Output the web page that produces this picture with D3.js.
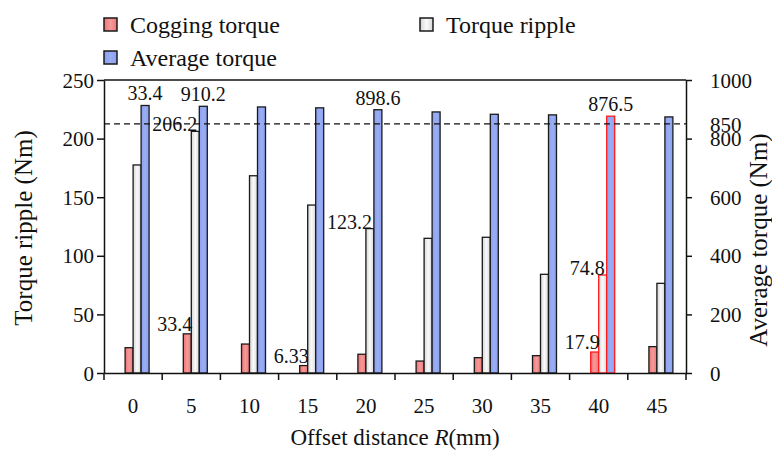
<!DOCTYPE html>
<html><head><meta charset="utf-8">
<script src="https://cdn.jsdelivr.net/npm/d3@7/dist/d3.min.js"></script>
<style>body{margin:0;background:#fff}svg{display:block}</style>
</head><body>
<svg id="c" width="772" height="452"></svg>
<script>
// ---- data ----
const categories = [0, 5, 10, 15, 20, 25, 30, 35, 40, 45];
const coggingTorque = [21.6, 33.4, 24.7, 6.33, 16.0, 10.2, 13.1, 14.8, 17.9, 22.5];
const torqueRipple = [177.5, 206.2, 168.3, 143.3, 123.2, 114.9, 115.8, 84.2, 83.6, 76.5];
const averageTorque = [913, 910.2, 908, 905, 898.6, 891, 883, 881, 876.5, 874];
const leftTicks = [0, 50, 100, 150, 200, 250];
const rightTicks = [0, 200, 400, 600, 800, 850, 1000];
const referenceAvg = 850;
const highlightIndex = 8;
const labels = [
  {text: "33.4", series: "avg", i: 0},
  {text: "910.2", series: "avg", i: 1},
  {text: "898.6", series: "avg", i: 4},
  {text: "876.5", series: "avg", i: 8},
  {text: "206.2", series: "ripple", i: 1},
  {text: "123.2", series: "ripple", i: 4},
  {text: "74.8", series: "ripple", i: 8},
  {text: "33.4", series: "cog", i: 1},
  {text: "6.33", series: "cog", i: 3},
  {text: "17.9", series: "cog", i: 8}
];

// ---- layout ----
const FONT = "'Liberation Serif', 'Times New Roman', 'Liberation Sans', Arial, sans-serif";
const L = 104, R = 686, T = 80, B = 373, bw = 8;
const svg = d3.select("#c").attr("font-family", FONT);
const x = d3.scaleBand().domain(categories).range([L, R]).padding(0);
const yL = d3.scaleLinear().domain([0, 250]).range([B, T]);
const yR = d3.scaleLinear().domain([0, 1000]).range([B, T]);

const defs = svg.append("defs");
function grad(id, stops) {
  const g = defs.append("linearGradient").attr("id", id).attr("x1", "0").attr("x2", "1").attr("y1", "0").attr("y2", "0");
  stops.forEach(s => g.append("stop").attr("offset", s[0]).attr("stop-color", s[1]));
}
grad("gCog", [[0, "#ee7474"], [0.5, "#f59a9a"], [1, "#ee7676"]]);
grad("gRip", [[0, "#d4d4d4"], [0.5, "#fafafa"], [1, "#d6d6d6"]]);
grad("gAvg", [[0, "#8b9ff0"], [0.5, "#9aaef4"], [1, "#8b9ff0"]]);

const cx = c => x(c) + x.bandwidth() / 2;
const series = [
  {key: "cog", vals: coggingTorque, scale: yL, off: -bw, fill: "url(#gCog)"},
  {key: "ripple", vals: torqueRipple, scale: yL, off: 0, fill: "url(#gRip)"},
  {key: "avg", vals: averageTorque, scale: yR, off: bw, fill: "url(#gAvg)"}
];
series.forEach(s => {
  svg.append("g").selectAll("rect").data(s.vals).join("rect")
    .attr("x", (d, i) => cx(categories[i]) + s.off)
    .attr("y", d => s.scale(d))
    .attr("width", bw)
    .attr("height", d => B - s.scale(d))
    .attr("fill", s.fill)
    .attr("stroke", (d, i) => i === highlightIndex ? "#ff1a1a" : "#1a1a1a")
    .attr("stroke-width", 1.3);
});

svg.append("line").attr("x1", L).attr("x2", R)
  .attr("y1", yR(referenceAvg)).attr("y2", yR(referenceAvg))
  .attr("stroke", "#111").attr("stroke-width", 1.3).attr("stroke-dasharray", "6,4");
svg.append("line").attr("x1", L).attr("x2", R).attr("y1", T).attr("y2", T)
  .attr("stroke", "#111").attr("stroke-width", 1.5);

const gl = svg.append("g").attr("transform", `translate(${L},0)`)
  .call(d3.axisLeft(yL).tickValues(leftTicks).tickFormat(d3.format("d")).tickSize(7).tickPadding(3).tickSizeOuter(0));
const gr = svg.append("g").attr("transform", `translate(${R},0)`)
  .call(d3.axisRight(yR).tickValues(rightTicks).tickFormat(d3.format("d")).tickSize(6).tickPadding(18).tickSizeOuter(0));
gr.selectAll(".tick").filter(d => d === 850).select("line").remove();
const gb = svg.append("g").attr("transform", `translate(0,${B})`)
  .call(d3.axisBottom(x).tickSize(0).tickPadding(24).tickSizeOuter(0));
svg.append("g").selectAll("line").data(categories.concat(["end"])).join("line")
  .attr("x1", (d, i) => i < categories.length ? x(d) : R)
  .attr("x2", (d, i) => i < categories.length ? x(d) : R)
  .attr("y1", B).attr("y2", B + 7).attr("stroke", "#111").attr("stroke-width", 1.5);

[gl, gr, gb].forEach(g => {
  g.attr("font-family", FONT);
  g.selectAll(".domain").attr("stroke", "#111").attr("stroke-width", 1.5);
  g.selectAll(".tick line").attr("stroke", "#111").attr("stroke-width", 1.5);
  g.selectAll(".tick text").attr("font-size", 21).attr("fill", "#111");
});
gb.selectAll(".tick text").attr("dy", "0.32em").attr("y", 33);
gl.selectAll(".tick text").attr("dy", "0.34em");
gr.selectAll(".tick text").attr("dy", "0.34em");

svg.append("text").attr("transform", "translate(23,228) rotate(-90)")
  .attr("text-anchor", "middle").attr("dominant-baseline", "central").attr("font-size", 25)
  .attr("fill", "#111").text("Torque ripple (Nm)");
svg.append("text").attr("transform", "translate(758,240) rotate(-90)")
  .attr("text-anchor", "middle").attr("dominant-baseline", "central").attr("font-size", 25)
  .attr("fill", "#111").text("Average torque (Nm)");
const bt = svg.append("text").attr("x", (L + R) / 2).attr("y", 437)
  .attr("text-anchor", "middle").attr("dominant-baseline", "central").attr("font-size", 23).attr("fill", "#111");
bt.append("tspan").text("Offset distance ");
bt.append("tspan").attr("font-style", "italic").text("R");
bt.append("tspan").text("(mm)");

const labelPos = {
  avg: (i, v) => ({x: cx(categories[i]) + bw * 1.5, y: yR(v) - 12, anchor: "middle"}),
  ripple: (i, v) => ({x: cx(categories[i]) + 6, y: yL(v) - 7, anchor: "end"}),
  cog: (i, v) => ({x: cx(categories[i]) + 1, y: yL(v) - 10, anchor: "end"})
};
const valOf = {avg: averageTorque, ripple: torqueRipple, cog: coggingTorque};
svg.append("g").selectAll("text").data(labels).join("text")
  .each(function(d) {
    const p = labelPos[d.series](d.i, valOf[d.series][d.i]);
    d3.select(this).attr("x", p.x).attr("y", p.y).attr("text-anchor", p.anchor);
  })
  .attr("fill", "#111")
  .attr("dominant-baseline", "central").attr("font-size", 20).text(d => d.text);

const legend = [
  {name: "Cogging torque", fill: "url(#gCog)", x: 104, y: 24},
  {name: "Torque ripple", fill: "url(#gRip)", x: 420, y: 24},
  {name: "Average torque", fill: "url(#gAvg)", x: 104, y: 57}
];
const lg = svg.append("g").selectAll("g").data(legend).join("g")
  .attr("transform", d => `translate(${d.x},${d.y})`);
lg.append("rect").attr("x", 0).attr("y", -6).attr("width", 13).attr("height", 13)
  .attr("fill", d => d.fill).attr("stroke", "#1a1a1a").attr("stroke-width", 1.5);
lg.append("text").attr("x", 26).attr("y", 1).attr("dominant-baseline", "central")
  .attr("fill", "#111").attr("font-size", 24).text(d => d.name);
</script>
</body></html>
